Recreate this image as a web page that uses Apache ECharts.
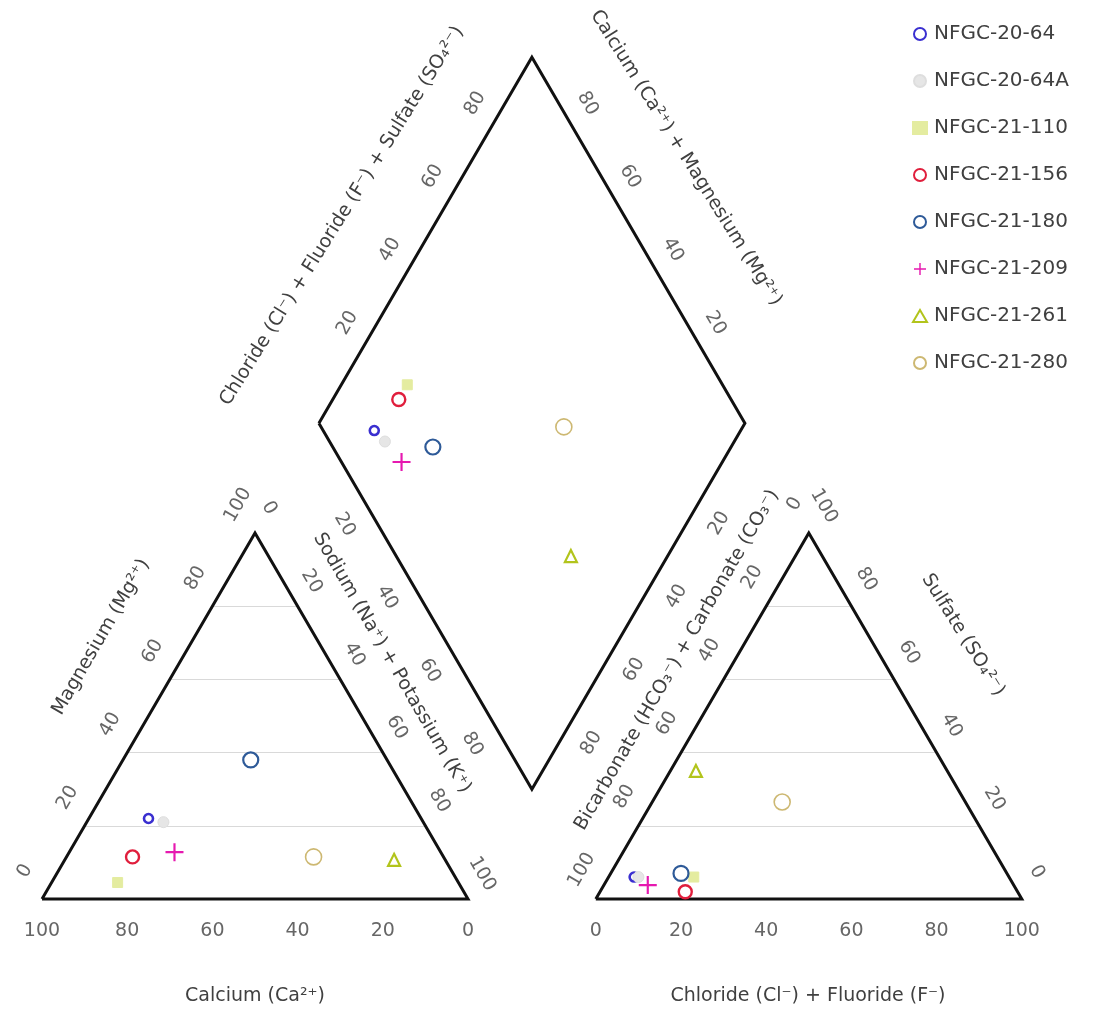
<!DOCTYPE html>
<html>
<head>
<meta charset="utf-8">
<script src="https://cdn.jsdelivr.net/npm/echarts@6/dist/echarts.min.js"></script>
<style>
html,body{margin:0;padding:0;background:#ffffff;}
#chart{width:1099px;height:1013px;}
</style>
</head>
<body>
<div id="chart"></div>
<script>
// ---------------- DATA (percent of meq) ----------------
const samples = ['NFGC-20-64','NFGC-20-64A','NFGC-21-110','NFGC-21-156','NFGC-21-180','NFGC-21-209','NFGC-21-261','NFGC-21-280'];
// cations
const calcium         = [64.0, 61.0, 80.0, 73.0, 32.0, 62.5, 12.0, 30.5];
const magnesium       = [22.0, 21.0,  4.5, 11.5, 38.0, 12.8, 10.7, 11.5];
const sodiumPotassium = [14.0, 18.0, 15.5, 15.5, 30.0, 24.7, 77.3, 58.0];
// anions
const bicarbonateCarbonate = [88.0, 87.0, 74.0, 78.0, 76.5, 85.9, 59.0, 43.0];
const chlorideFluoride     = [ 6.0,  7.0, 20.0, 20.0, 16.5, 10.3,  6.0, 30.5];
const sulfate              = [ 6.0,  6.0,  6.0,  2.0,  7.0,  3.8, 35.0, 26.5];
// tick labels
const edgeTicks    = [0, 20, 40, 60, 80, 100];
const diamondTicks = [20, 40, 60, 80];
const gridLevels   = [20, 40, 60, 80];

// ---------------- LAYOUT / STYLE ----------------
const W = 1099, HGT = 1013;
const PXX = 4.26, PXY = 4.226;        // pixels per ternary unit
const ORIGIN_X = 42, ORIGIN_Y = 899;  // pixel position of the cation triangle's Ca vertex
const H = Math.sqrt(3) / 2;
const GAP = 30;                       // gap between triangles, in units
const RX = 100 + GAP;                 // x of anion triangle's left vertex
const B = [100 + GAP / 2, GAP * H];
const L = [B[0] - 50, B[1] + 100 * H];
const T = [B[0], B[1] + 200 * H];
const R = [B[0] + 50, B[1] + 100 * H];

const TXT = '#404040';
const FONT = '"DejaVu Sans", "Noto Sans", sans-serif';

function cationXY(ca, mg, na) {
  const s = ca + mg + na;
  return [(na + mg / 2) / s * 100, mg / s * 100 * H];
}
function anionXY(hc, cl, so) {
  const s = hc + cl + so;
  return [RX + (cl + so / 2) / s * 100, so / s * 100 * H];
}
function diamondXY(na, clso) {
  return [L[0] + na / 100 * (B[0] - L[0]) + clso / 100 * (T[0] - L[0]),
          L[1] + na / 100 * (B[1] - L[1]) + clso / 100 * (T[1] - L[1])];
}
function lerp(p, q, t) { return [p[0] + (q[0] - p[0]) * t, p[1] + (q[1] - p[1]) * t]; }

const plusPath = 'path://M0,4.4H10V5.6H0Z M4.4,0H5.6V10H4.4Z';
const markerStyles = {
  'NFGC-20-64':  {symbol: 'circle',   size: 9,  fill: '#ffffff', stroke: '#3a2fd0', bw: 2.6},
  'NFGC-20-64A': {symbol: 'circle',   size: 11, fill: '#e6e6e6', stroke: '#dedede', bw: 1},
  'NFGC-21-110': {symbol: 'rect',     size: 10, fill: '#e4eca0', stroke: '#e4eca0', bw: 1},
  'NFGC-21-156': {symbol: 'circle',   size: 13, fill: 'rgba(255,255,255,0)', stroke: '#e01e3c', bw: 2.4},
  'NFGC-21-180': {symbol: 'circle',   size: 15, fill: 'rgba(255,255,255,0)', stroke: '#2e5a98', bw: 2.2},
  'NFGC-21-209': {symbol: plusPath,   size: 18, fill: '#e619b0', stroke: 'rgba(0,0,0,0)', bw: 0},
  'NFGC-21-261': {symbol: 'triangle', size: 12, fill: 'rgba(255,255,255,0)', stroke: '#b2c41c', bw: 2.2},
  'NFGC-21-280': {symbol: 'circle',   size: 16, fill: 'rgba(255,255,255,0)', stroke: '#cdb872', bw: 1.6}
};

// ---------------- SERIES ----------------
const series = [];

// light grid lines
const gridCoords = [];
gridLevels.forEach(v => {
  gridCoords.push({coords: [[0.5 * v, v * H], [100 - 0.5 * v, v * H]]});
  gridCoords.push({coords: [[RX + 0.5 * v, v * H], [RX + 100 - 0.5 * v, v * H]]});
});
series.push({type: 'lines', coordinateSystem: 'cartesian2d', silent: true, z: 1,
  lineStyle: {color: '#d9d9d9', width: 1, opacity: 1}, data: gridCoords});

// frames
series.push({type: 'lines', coordinateSystem: 'cartesian2d', polyline: true, silent: true, z: 2,
  lineStyle: {color: '#111111', width: 3, opacity: 1, join: 'miter'},
  data: [
    {coords: [[0, 0], [100, 0], [50, 100 * H], [0, 0]]},
    {coords: [[RX, 0], [RX + 100, 0], [RX + 50, 100 * H], [RX, 0]]},
    {coords: [L, T, R, B, L]}
  ]});

// tick labels
function labelSeries(values, pointFn, dx, dy, rotate) {
  return {
    type: 'scatter', silent: true, z: 3, symbolSize: 1,
    itemStyle: {color: 'rgba(0,0,0,0)'},
    data: values.map(v => { const p = pointFn(v); return [p[0] + dx / PXX, p[1] - dy / PXY, v]; }),
    label: {show: true, position: 'inside', rotate: rotate, formatter: p => String(p.value[2]),
            color: TXT, fontSize: 19, fontFamily: FONT}
  };
}
// cation triangle
series.push(labelSeries(edgeTicks, v => [100 - v, 0], 0, 32, 0));                          // Calcium
series.push(labelSeries(edgeTicks, v => [0.5 * v, v * H], -17, -28, 60));                  // Magnesium
series.push(labelSeries(edgeTicks, v => [50 + 0.5 * v, (100 - v) * H], 14, -25, -60));     // Na + K
// anion triangle
series.push(labelSeries(edgeTicks, v => [RX + v, 0], 0, 32, 0));                           // Cl + F
series.push(labelSeries(edgeTicks, v => [RX + 50 - 0.5 * v, (100 - v) * H], -14, -29, 60)); // HCO3 + CO3
series.push(labelSeries(edgeTicks, v => [RX + 100 - 0.5 * v, v * H], 15, -27, -60));       // SO4
// diamond
series.push(labelSeries(diamondTicks, v => lerp(L, B, v / 100), -17, 28, -60));            // Na + K
series.push(labelSeries(diamondTicks, v => lerp(L, T, v / 100), -14, -27, 60));            // Cl + F + SO4
series.push(labelSeries(diamondTicks, v => lerp(T, R, (100 - v) / 100), 13, -27, -60));    // Ca + Mg
series.push(labelSeries(diamondTicks, v => lerp(R, B, v / 100), 17, 27, 60));              // HCO3 + CO3

// sample points
samples.forEach((name, i) => {
  const st = markerStyles[name];
  const c = cationXY(calcium[i], magnesium[i], sodiumPotassium[i]);
  const a = anionXY(bicarbonateCarbonate[i], chlorideFluoride[i], sulfate[i]);
  const nak = sodiumPotassium[i] / (calcium[i] + magnesium[i] + sodiumPotassium[i]) * 100;
  const clso = (chlorideFluoride[i] + sulfate[i]) / (bicarbonateCarbonate[i] + chlorideFluoride[i] + sulfate[i]) * 100;
  const d = diamondXY(nak, clso);
  series.push({
    type: 'scatter', name: name, z: 5,
    symbol: st.symbol, symbolSize: st.size, symbolKeepAspect: true,
    itemStyle: {color: st.fill, borderColor: st.stroke, borderWidth: st.bw, opacity: 1},
    data: [c, a, d]
  });
});

// axis titles
const titles = [
  {text: 'Calcium (Ca²⁺)', x: 255, y: 996, rot: 0},
  {text: 'Chloride (Cl⁻) + Fluoride (F⁻)', x: 808, y: 996, rot: 0},
  {text: 'Magnesium (Mg²⁺)', x: 101, y: 637, rot: 60},
  {text: 'Sodium (Na⁺) + Potassium (K⁺)', x: 392, y: 663, rot: -60},
  {text: 'Chloride (Cl⁻) + Fluoride (F⁻) + Sulfate (SO₄²⁻)', x: 342, y: 216, rot: 58},
  {text: 'Calcium (Ca²⁺) + Magnesium (Mg²⁺)', x: 686, y: 158, rot: -58},
  {text: 'Bicarbonate (HCO₃⁻) + Carbonate (CO₃⁻)', x: 677, y: 660, rot: 60},
  {text: 'Sulfate (SO₄²⁻)', x: 963, y: 635, rot: -58}
];

const option = {
  animation: false,
  backgroundColor: '#ffffff',
  grid: {left: 0, top: 0, width: W, height: HGT, show: false},
  xAxis: {type: 'value', min: -ORIGIN_X / PXX, max: (W - ORIGIN_X) / PXX, show: false},
  yAxis: {type: 'value', min: -(HGT - ORIGIN_Y) / PXY, max: ORIGIN_Y / PXY, show: false},
  legend: {
    data: samples, orient: 'vertical', left: 907, top: 19,
    itemWidth: 14, itemHeight: 12, itemGap: 27, symbolKeepAspect: true,
    textStyle: {color: TXT, fontSize: 20, lineHeight: 20, fontFamily: FONT, padding: [0, 0, 0, 2]},
    selectedMode: false
  },
  graphic: titles.map(t => ({
    type: 'text', x: t.x, y: t.y, rotation: t.rot * Math.PI / 180, silent: true,
    style: {text: t.text, fill: TXT, fontSize: 19, fontFamily: FONT, align: 'center', verticalAlign: 'middle'}
  })),
  series: series
};

const chart = echarts.init(document.getElementById('chart'), null, {renderer: 'canvas'});
chart.setOption(option);
</script>
</body>
</html>
